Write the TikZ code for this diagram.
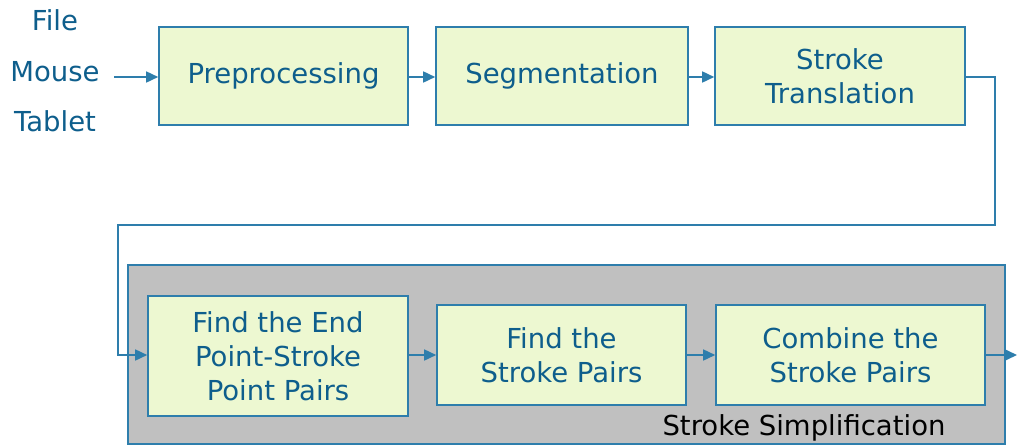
\documentclass[tikz,border=0pt]{standalone}
\usepackage{fontspec}
\setmainfont{DejaVu Sans}
\usetikzlibrary{arrows.meta}
\definecolor{ink}{RGB}{14,94,140}
\definecolor{edgeblue}{RGB}{46,126,172}
\definecolor{boxfill}{RGB}{237,248,209}
\definecolor{panelgray}{RGB}{192,192,192}
\tikzset{
  stage/.style={draw=edgeblue, line width=1.6pt, fill=boxfill, rectangle,
    inner sep=0pt, align=center, text=ink,
    font=\fontsize{27.5}{34}\selectfont},
  source/.style={text=ink, font=\fontsize{27.5}{34}\selectfont, inner sep=0pt},
  flow/.style={draw=edgeblue, line width=1.6pt,
    -{Triangle[length=12pt,width=11pt]}},
}
\begin{document}
\begin{tikzpicture}[x=1pt, y=-1pt]
\useasboundingbox (0,0) rectangle (1017,447);

% input sources
\node[source] (file) at (55,20) {File};
\node[source] (mouse) at (55,72) {Mouse};
\node[source] (tablet) at (55,121) {Tablet};
\coordinate (inlet) at (114,77);

% first row of stages
\node[stage, minimum width=249pt, minimum height=98pt] (pre) at (283.5,76) {Preprocessing};
\node[stage, minimum width=252pt, minimum height=98pt] (seg) at (562,76) {Segmentation};
\node[stage, minimum width=250pt, minimum height=98pt] (trans) at (840,76) {Stroke\\Translation};

% stroke simplification panel
\node[draw=edgeblue, line width=1.6pt, fill=panelgray, rectangle, inner sep=0pt,
  minimum width=877pt, minimum height=179pt] (panel) at (566.5,354.5) {};
\node[font=\fontsize{27.5}{34}\selectfont, text=black, inner sep=0pt] (panellabel) at (804,428) {Stroke Simplification};

\node[stage, minimum width=260pt, minimum height=120pt] (ends) at (278,356) {Find the End\\Point-Stroke\\Point Pairs};
\node[stage, minimum width=249pt, minimum height=100pt] (pairs) at (561.5,355) {Find the\\Stroke Pairs};
\node[stage, minimum width=269pt, minimum height=100pt] (comb) at (850.5,355) {Combine the\\Stroke Pairs};
\coordinate (outlet) at (1017,355);

% connectors
\draw[flow] (inlet) -- (inlet -| pre.west);
\draw[flow] (pre.east |- 0,77) -- (seg.west |- 0,77);
\draw[flow] (seg.east |- 0,77) -- (trans.west |- 0,77);
\draw[flow] (trans.east |- 0,77) -- (995,77) |- (118,225) |- (ends.west |- 0,355);
\draw[flow] (ends.east |- 0,355) -- (pairs.west |- 0,355);
\draw[flow] (pairs.east) -- (comb.west);
\draw[flow] (comb.east) -- (outlet);
\end{tikzpicture}
\end{document}
